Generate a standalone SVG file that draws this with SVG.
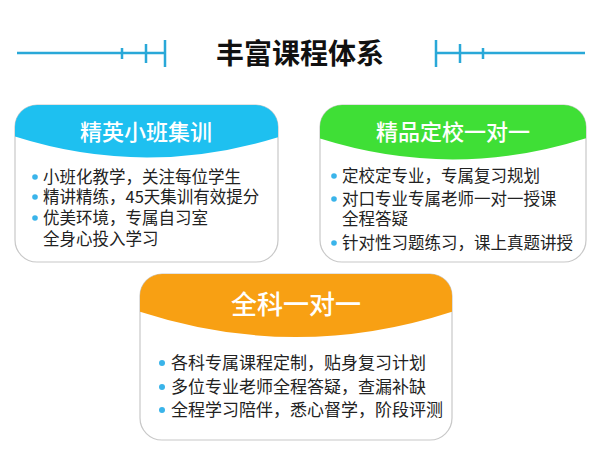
<svg xmlns="http://www.w3.org/2000/svg" width="600" height="460" viewBox="0 0 600 460">
<defs>
<style>
.card{fill:#fff;stroke:#c8c8c8;stroke-width:1.2}
.ht{fill:#fff;font-family:"Noto Sans CJK SC",sans-serif;text-anchor:middle;font-weight:500}
.t{fill:#222;font-family:"Noto Sans CJK SC",sans-serif}
.b{fill:#3ab4ea}
.deco{stroke:#29a8d8;stroke-width:2.5;fill:none}
</style>
<clipPath id="c1"><rect x="15" y="105" width="263" height="157" rx="22"/></clipPath>
<clipPath id="c2"><rect x="320" y="105" width="266" height="157" rx="22"/></clipPath>
<clipPath id="c3"><rect x="140" y="274" width="312" height="166" rx="22"/></clipPath>
</defs>
<rect width="600" height="460" fill="#fff"/>
<g id="title">
<path class="deco" d="M17 53H165M122 48V59M146 44V63M165 40V67M436 53H585M436 40V67M460 44V63M483 48V59"/>
<text x="300" y="64" font-size="28" font-weight="bold" text-anchor="middle" font-family="Noto Sans CJK SC,sans-serif" fill="#111">丰富课程体系</text>
</g>
<g id="card1">
<rect class="card" x="15" y="105" width="263" height="157" rx="22"/>
<path clip-path="url(#c1)" d="M10 100H285V135Q146.5 180 10 135Z" fill="#1ec0f0"/>
<text class="ht" x="146" y="140" font-size="22">精英小班集训</text>
<g font-size="16.5" class="t">
<circle class="b" cx="35" cy="177" r="2.8"/><text x="43" y="183">小班化教学，关注每位学生</text>
<circle class="b" cx="35" cy="197" r="2.8"/><text x="43" y="203">精讲精练，45天集训有效提分</text>
<circle class="b" cx="35" cy="218" r="2.8"/><text x="43" y="224">优美环境，专属自习室</text>
<text x="43" y="245">全身心投入学习</text>
</g>
</g>
<g id="card2">
<rect class="card" x="320" y="105" width="266" height="157" rx="22"/>
<path clip-path="url(#c2)" d="M315 100H590V137Q453 182 315 137Z" fill="#3fdf36"/>
<text class="ht" x="453" y="140" font-size="22">精品定校一对一</text>
<g font-size="16.5" class="t">
<circle class="b" cx="334" cy="176" r="2.8"/><text x="342" y="182">定校定专业，专属复习规划</text>
<circle class="b" cx="334" cy="199" r="2.8"/><text x="342" y="205">对口专业专属老师一对一授课</text>
<text x="342" y="225">全程答疑</text>
<circle class="b" cx="334" cy="243" r="2.8"/><text x="342" y="249">针对性习题练习，课上真题讲授</text>
</g>
</g>
<g id="card3">
<rect class="card" x="140" y="274" width="312" height="166" rx="22"/>
<path clip-path="url(#c3)" d="M135 270H457V310Q296 364 135 310Z" fill="#f8a013"/>
<text class="ht" x="296" y="314" font-size="26">全科一对一</text>
<g font-size="17" class="t">
<circle class="b" cx="162" cy="363" r="3"/><text x="171" y="369">各科专属课程定制，贴身复习计划</text>
<circle class="b" cx="162" cy="387" r="3"/><text x="171" y="393">多位专业老师全程答疑，查漏补缺</text>
<circle class="b" cx="162" cy="410" r="3"/><text x="171" y="416">全程学习陪伴，悉心督学，阶段评测</text>
</g>
</g>
</svg>
